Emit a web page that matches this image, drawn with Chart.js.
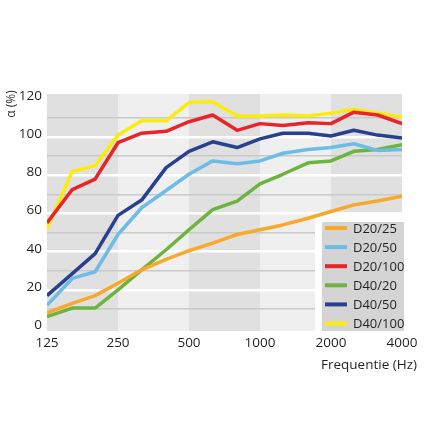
<!DOCTYPE html>
<html>
<head>
<meta charset="utf-8">
<script src="https://cdn.jsdelivr.net/npm/chart.js"></script>
<style>
  html, body { margin: 0; padding: 0; background: #fff; }
  #wrap { width: 427px; height: 427px; }
</style>
</head>
<body>
<div id="wrap"><canvas id="myChart" width="427" height="427"></canvas></div>
<script>
// third-octave frequencies (Hz)
const freqs = [125, 160, 200, 250, 315, 400, 500, 630, 800, 1000, 1250, 1600, 2000, 2500, 3150, 4000];
const xTicks = [125, 250, 500, 1000, 2000, 4000];
const yTicks = [0, 10, 20, 30, 40, 50, 60, 70, 80, 90, 100, 110, 120];

// absorption alpha (%)
const d20_25  = [8, 13, 17, 23.5, 30.5, 36, 40.5, 44.5, 49, 51.5, 54, 57.5, 61, 64.5, 66.5, 69];
const d20_50  = [12, 26, 29.5, 49, 63, 72, 80.5, 87.5, 86, 87.5, 91.5, 93.5, 94.5, 96.5, 93, 93.5];
const d20_100 = [55, 72.5, 78, 97, 102, 103, 108, 111.5, 103.5, 107, 106, 107.5, 107, 113, 111.5, 107];
const d40_20  = [6, 10.5, 10.5, 20, 30.5, 41, 51.5, 62, 66.5, 75.5, 80.5, 86.5, 87.5, 92.5, 93.5, 96];
const d40_50  = [17, 28.5, 39, 59, 67, 84, 92.5, 97.5, 94.5, 99, 102, 102, 100.5, 103.5, 101, 99.5];
const d40_100 = [52, 82, 85, 101, 108.5, 108.5, 118, 118.5, 111, 111, 111.5, 111, 112.5, 114.5, 112.5, 110.5];

const seriesNames = ['D20/25', 'D20/50', 'D20/100', 'D40/20', 'D40/50', 'D40/100'];
const seriesData = [d20_25, d20_50, d20_100, d40_20, d40_50, d40_100];
const seriesColors = ['#f6a92a', '#6dbce8', '#e8242b', '#6db43f', '#27408f', '#fcec0c'];

const FONT = '"Open Sans", "Noto Sans", sans-serif';
const TEXT = '#231f20';

// octave bands behind the plot + legend box + axis titles
const decor = {
  id: 'decor',
  beforeDraw(chart) {
    const {ctx, chartArea: a, scales: {x}} = chart;
    ctx.save();
    for (let i = 0; i < xTicks.length - 1; i++) {
      const l = x.getPixelForValue(xTicks[i]);
      const r = x.getPixelForValue(xTicks[i + 1]);
      ctx.fillStyle = i % 2 === 0 ? '#e0e0e0' : '#efefef';
      ctx.fillRect(l, a.top, r - l, a.bottom - a.top);
    }
    ctx.restore();
  },
  beforeDatasetsDraw(chart) {
    const {ctx, chartArea: a} = chart;
    ctx.save();
    // white gap around the legend
    ctx.fillStyle = '#fff';
    ctx.fillRect(a.right - 87, a.bottom - 118, 90, 118);
    // legend box
    const bx = a.right - 80, by = a.bottom - 109;
    ctx.fillStyle = '#d4d4d4';
    ctx.fillRect(bx, by, 82, 109);
    ctx.font = '13px ' + FONT;
    ctx.textBaseline = 'middle';
    chart.data.datasets.forEach((ds, i) => {
      const cy = by + 6 + i * 19.1;
      ctx.strokeStyle = ds.borderColor;
      ctx.lineWidth = 4;
      ctx.beginPath();
      ctx.moveTo(bx + 3, cy);
      ctx.lineTo(bx + 25, cy);
      ctx.stroke();
      ctx.fillStyle = TEXT;
      ctx.fillText(ds.label, bx + 31, cy + 1);
    });
    ctx.restore();
  },
  afterDraw(chart) {
    const {ctx} = chart;
    ctx.save();
    ctx.fillStyle = TEXT;
    ctx.font = '13.5px ' + FONT;
    ctx.textAlign = 'center';
    ctx.textBaseline = 'middle';
    ctx.fillText('Frequentie (Hz)', 369, 365);
    ctx.translate(12, 104);
    ctx.rotate(-Math.PI / 2);
    ctx.font = '12px ' + FONT;
    ctx.fillText('α (%)', 0, 0);
    ctx.restore();
  }
};

const ctx = document.getElementById('myChart').getContext('2d');
const myChart = new Chart(ctx, {
  type: 'line',
  data: {
    datasets: seriesNames.map((name, i) => ({
      label: name,
      data: freqs.map((f, j) => ({x: f, y: seriesData[i][j]})),
      borderColor: seriesColors[i],
      backgroundColor: seriesColors[i],
      borderWidth: 3.5,
      borderJoinStyle: 'round',
      pointRadius: 0,
      tension: 0,
      fill: false
    }))
  },
  options: {
    responsive: false,
    animation: false,
    devicePixelRatio: 1,
    layout: {padding: {top: 94, right: 25, left: 0, bottom: 0}},
    plugins: {legend: {display: false}, tooltip: {enabled: false}},
    scales: {
      x: {
        type: 'logarithmic',
        min: 125,
        max: 4000,
        afterBuildTicks: s => { s.ticks = xTicks.map(v => ({value: v})); },
        afterFit: s => { s.height = 96; },
        border: {display: false},
        grid: {display: false, drawTicks: false},
        ticks: {
          color: TEXT,
          padding: 4,
          maxRotation: 0,
          autoSkip: false,
          font: {family: FONT, size: 13.5},
          callback: v => String(v)
        }
      },
      y: {
        min: -1.5,
        max: 122.5,
        afterBuildTicks: s => { s.ticks = yTicks.map(v => ({value: v})); },
        afterFit: s => { s.width = 47; },
        border: {display: false},
        grid: {
          drawTicks: false,
          color: c => {
            const v = c.tick.value;
            if (v === 0 || v === 120) return 'rgba(0,0,0,0)';
            return v % 20 === 0 ? '#ffffff' : '#c9c9c9';
          },
          lineWidth: c => (c.tick.value % 20 === 0 ? 2.5 : 1.5)
        },
        ticks: {
          color: TEXT,
          padding: 5,
          labelOffset: -3,
          font: {family: FONT, size: 13.5},
          callback: v => (v % 20 === 0 ? String(v) : '')
        }
      }
    }
  },
  plugins: [decor]
});
</script>
</body>
</html>
